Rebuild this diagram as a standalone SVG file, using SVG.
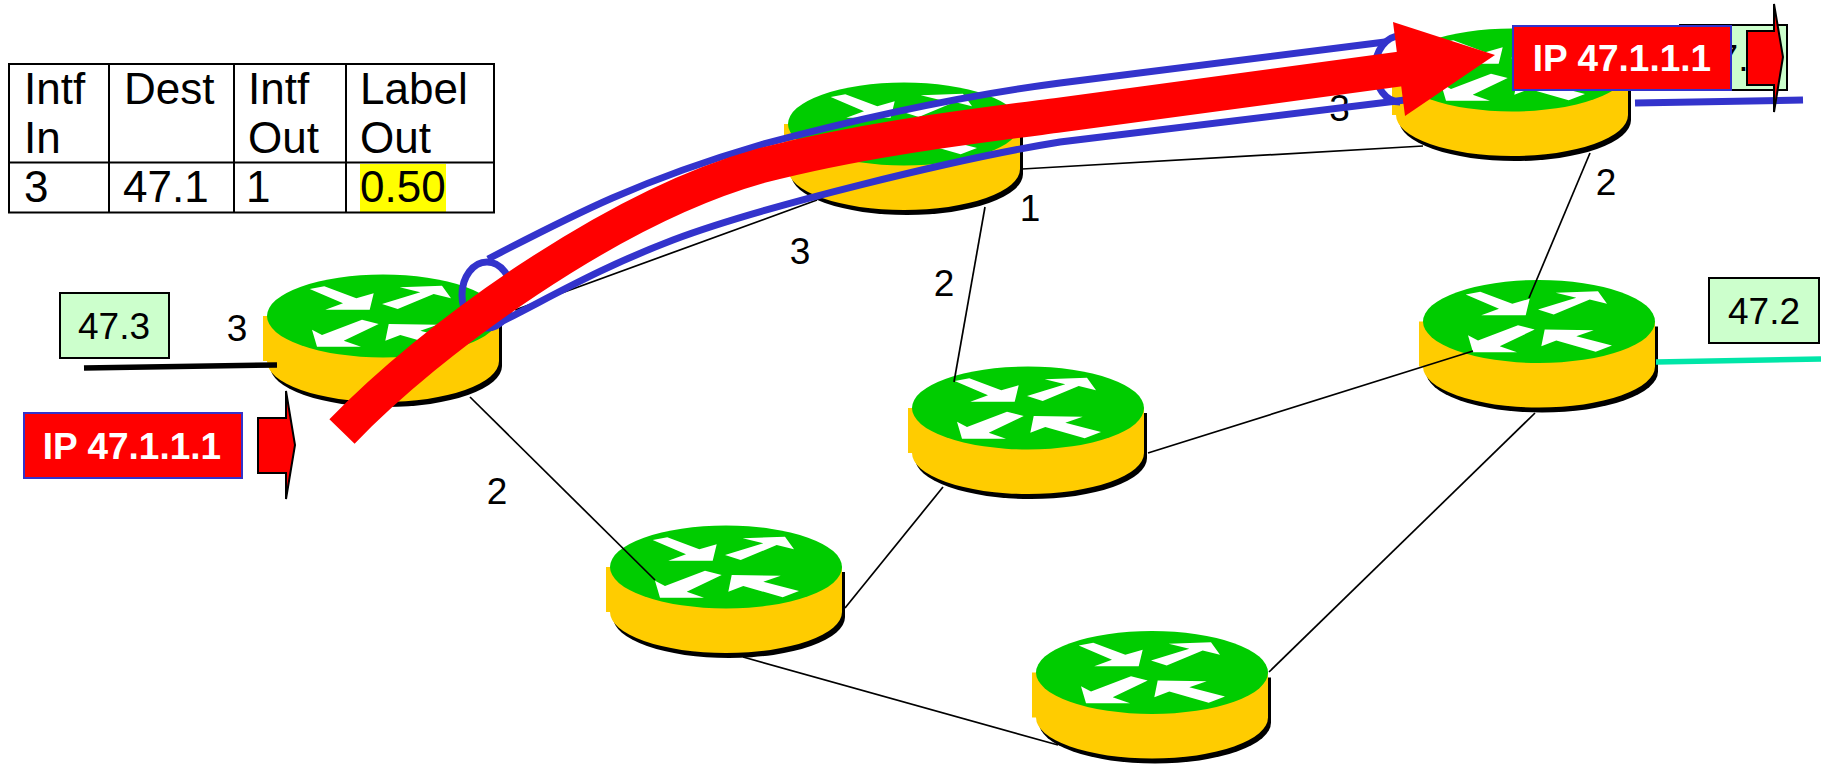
<svg xmlns="http://www.w3.org/2000/svg" xmlns:xlink="http://www.w3.org/1999/xlink" width="1821" height="764" viewBox="0 0 1821 764">
<style>
text{font-family:"Liberation Sans",Arial,sans-serif;fill:#000}
.m{font-size:37px;text-anchor:middle}
.c{font-size:44px}
.ip{font-size:37px;font-weight:bold;fill:#fff;text-anchor:middle}
.link{stroke:#000;stroke-width:1.7;fill:none}
.grid{stroke:#000;stroke-width:2;fill:none}
.box{fill:#cfc;stroke:#000;stroke-width:2}
.ipbox{fill:#f00;stroke:#33c;stroke-width:2}
.pkt{fill:#f00;stroke:#000;stroke-width:2}
.lsp{fill:none;stroke:#33c;stroke-width:7}
</style>
<defs>
<g id="router">
<path fill="#000" d="M-113,5H119V50A116,41 0 0 1 -113,50Z"/>
<path fill="#fc0" d="M-120,0H116V45A116,41 0 0 1 -116,45H-120Z"/>
<ellipse cx="0" cy="0" rx="116" ry="41.5" fill="#0c0"/>
<g fill="#fff">
<polygon points="-73.3,-27 -58.7,-29.7 -26.7,-17.7 -9.3,-22.7 -13.3,-6.3 -57.7,-6.3 -40,-12.7"/>
<polygon points="-1,-12 37.3,-23.7 16.7,-28.7 59,-30.3 68,-17.7 50.7,-22 14.7,-7"/>
<polygon points="-4.3,8 -21,3.7 -61,19 -71,13.7 -66,30.7 -22,30.7 -39.3,24.7"/>
<polygon points="2.3,24.7 5.7,8 54.7,8.7 37.3,14.7 73,24 56.7,30.3 17.3,19"/>
</g>
</g>
</defs>
<rect width="1821" height="764" fill="#fff"/>

<g id="table">
<rect x="360" y="164" width="86" height="48" fill="#ff0"/>
<path class="grid" d="M9,64H494V212.500H9ZM9,162.500H494M109,64V212.500M234,64V212.500M346,64V212.500"/>
<text class="c" x="24" y="104">Intf</text>
<text class="c" x="24" y="153">In</text>
<text class="c" x="124" y="104">Dest</text>
<text class="c" x="248" y="104">Intf</text>
<text class="c" x="248" y="153">Out</text>
<text class="c" x="360" y="104">Label</text>
<text class="c" x="360" y="153">Out</text>
<text class="c" x="24" y="202">3</text>
<text class="c" x="123" y="202">47.1</text>
<text class="c" x="246" y="202">1</text>
<text class="c" x="360" y="202">0.50</text>
</g>

<g id="router-a"><use href="#router" x="383" y="316"/></g>
<g id="router-b"><use href="#router" x="904" y="124"/></g>
<g id="router-c"><use href="#router" x="1512" y="70"/></g>
<g id="router-d"><use href="#router" x="1539" y="321.5"/></g>
<g id="router-e"><use href="#router" x="1028" y="408"/></g>
<g id="router-f"><use href="#router" x="726" y="567"/></g>
<g id="router-g"><use href="#router" x="1152" y="672.5"/></g>

<g id="connectors">
<path class="link" d="M515,310L817,200"/>
<path class="link" d="M1022,169L1423,146"/>
<path class="link" d="M985,207L954,382"/>
<path class="link" d="M1590,153L1529,298"/>
<path class="link" d="M1148,453L1473,351"/>
<path class="link" d="M845,608L943,487"/>
<path class="link" d="M470,397L655,580"/>
<path class="link" d="M743,657L1058,745"/>
<path class="link" d="M1269,672L1535,413"/>
<path d="M84,368L277,365" stroke="#000" stroke-width="5.5" fill="none"/>
<path d="M1656,362L1821,359" stroke="#00e6a8" stroke-width="5.5" fill="none"/>
<path class="lsp" d="M1635,103L1803,100"/>
</g>

<g id="labels">
<text class="m" x="237" y="341">3</text>
<text class="m" x="497" y="504">2</text>
<text class="m" x="800" y="264">3</text>
<text class="m" x="944" y="296">2</text>
<text class="m" x="1030" y="221">1</text>
<text class="m" x="1339.500" y="121">3</text>
<text class="m" x="1606" y="195">2</text>
</g>

<g id="box-47-3"><rect class="box" x="60" y="293" width="109" height="65"/><text class="m" x="114" y="339">47.3</text></g>
<g id="box-47-2"><rect class="box" x="1709" y="278" width="110" height="65"/><text class="m" x="1764" y="324">47.2</text></g>
<g id="box-47-1"><rect class="box" x="1680" y="25" width="107" height="65"/><text class="m" x="1733" y="71">47.1</text></g>

<g id="tunnel">
<ellipse class="lsp" cx="487" cy="295" rx="25" ry="33"/>
<path class="lsp" d="M1400,36A25,33 0 0 0 1400,102"/>
<path class="lsp" d="M488,259C573,215 640,180 760,145C860,118 960,96 1060,83L1385,42"/>
<path class="lsp" d="M497,324C560,292 600,268 673,240C760,207 960,158 1060,142L1405,100"/>
</g>

<g id="flow">
<path d="M342,431.500C430,340 610,208 760,166C860,140 960,128 1060,115L1400,69" fill="none" stroke="#f00" stroke-width="35"/>
<polygon points="1393,22 1495,55 1405,116" fill="#f00"/>
</g>

<g id="packet-in">
<rect class="ipbox" x="24" y="413" width="218" height="65"/>
<text class="ip" x="132" y="459">IP 47.1.1.1</text>
<polygon class="pkt" points="258,418 286,418 286,391 295,445 286,499 286,473 258,473"/>
</g>
<g id="packet-out">
<rect class="ipbox" x="1513" y="26" width="218" height="64"/>
<text class="ip" x="1622" y="71">IP 47.1.1.1</text>
<polygon class="pkt" points="1747,31 1774,31 1774,4 1783,57 1774,112 1774,85 1747,85"/>
</g>
</svg>
